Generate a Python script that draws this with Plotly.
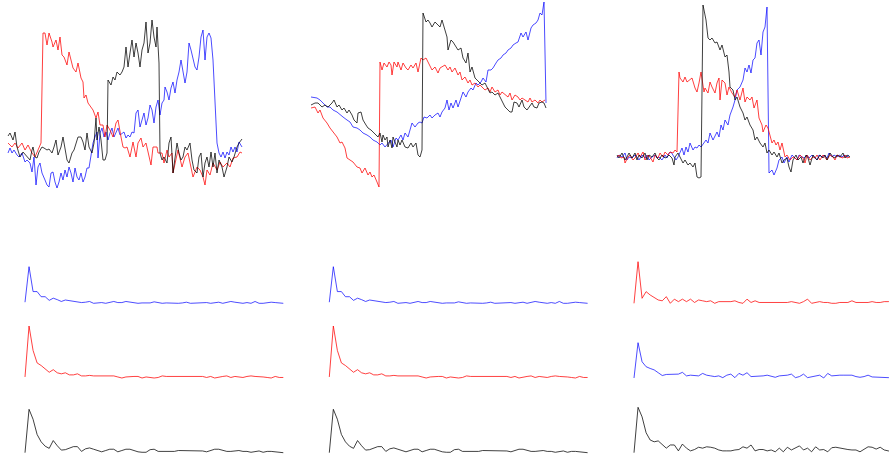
import plotly.graph_objects as go

W, H = 889, 459

# ---------------- time-domain signals (sample index, amplitude) ----------------
# Panel 1
p1_red_t = [0, 4, 7, 10, 14, 17, 20, 24, 27, 30, 33, 35, 37, 39, 41, 44, 45, 48, 50, 52, 54, 56, 59, 61, 63, 65, 68, 70, 73, 75,
            76, 78, 80, 83, 85, 88, 90, 92, 95, 97, 99, 102, 105, 108, 110, 113, 115, 117, 119, 122, 125, 128, 130, 133, 135, 138, 140, 143, 145, 149,
            150, 154, 156, 159, 161, 164, 165, 168, 170, 174, 177, 180, 183, 185, 189, 192, 195, 197, 199, 202, 205, 209, 212, 215, 219, 222, 225, 229, 232, 234]
p1_red_v = [7, 3, 7, 2, 7, 0, 5, -3, -7, 0, 7, 117, 117, 105, 117, 108, 103, 110, 100, 113, 95, 93, 85, 98, 90, 82, 78, 87, 72, 68,
            52, 55, 47, 42, 40, 32, 38, 25, 25, 13, 25, 20, 13, 27, 30, 13, 3, 2, 3, -7, 8, -7, 7, 12, 3, 7, -3, -15, 3, 3,
            -3, -3, -13, 0, -7, -3, -23, -10, 0, -17, -7, -3, -17, -27, -17, -20, -27, -35, -20, -25, -13, -20, -12, -17, -13, -17, -8, -7, -2, -3]

p1_black_t = [0, 2, 5, 7, 9, 12, 15, 17, 19, 22, 24, 25, 27, 29, 31, 34, 36, 39, 41, 44, 46, 48, 50, 53, 55, 57, 59, 61, 64, 66,
              68, 70, 73, 75, 77, 79, 81, 84, 86, 88, 89, 91, 93, 95, 97, 99, 100, 103, 105, 107, 109, 112, 114, 116, 118, 120, 122, 124, 126, 128,
              130, 132, 134, 136, 138, 140, 142, 144, 146, 148, 149, 151, 152, 154, 156, 159, 161, 163, 165, 167, 169, 171, 173, 175, 177, 179, 182, 184, 186, 189,
              191, 193, 195, 197, 199, 201, 203, 205, 207, 209, 211, 214, 216, 219, 221, 224, 226, 229, 231, 234]
p1_black_v = [14, 17, 10, 18, 3, -7, -2, -4, -7, -10, 0, 3, -7, -8, -2, 3, 2, 0, 1, -3, 3, 10, -5, 3, 13, 3, -10, -13, -3, 0,
              7, 13, 13, 8, 0, 17, 3, -3, 7, 32, 10, 23, 10, -10, -10, -3, 70, 65, 73, 70, 78, 75, 78, 83, 103, 83, 97, 110, 93, 107,
              97, 83, 100, 107, 128, 97, 107, 130, 113, 103, 123, 87, -3, -10, -7, -13, 7, 13, -23, -7, 7, -3, -10, -7, 3, 0, 7, -10, -20, -23,
              -7, -3, -27, -13, -7, -17, -2, -17, -3, -23, -10, -17, -27, -17, -7, -12, -7, 3, 7, 11]

p1_blue_t = [0, 2, 4, 6, 9, 11, 14, 17, 19, 22, 24, 26, 28, 30, 32, 34, 37, 39, 41, 43, 45, 47, 49, 51, 53, 55, 57, 59, 61, 63,
             65, 67, 69, 71, 73, 75, 77, 79, 81, 83, 85, 87, 89, 90, 92, 94, 96, 98, 100, 102, 104, 106, 108, 110, 112, 114, 116, 118, 120, 122,
             124, 126, 128, 130, 132, 134, 136, 138, 140, 142, 144, 146, 148, 150, 152, 154, 156, 157, 159, 161, 163, 165, 167, 169, 171, 173, 175, 177, 179, 181,
             183, 185, 187, 189, 191, 193, 195, 197, 199, 201, 203, 205, 207, 209, 211, 213, 215, 217, 219, 221, 223, 225, 227, 229, 231, 234]
p1_blue_v = [-3, 2, -3, 0, -5, -7, -3, -12, -10, -13, -22, -7, -35, -17, -13, -23, -30, -35, -37, -23, -22, -32, -38, -32, -23, -30, -20, -27, -17, -23,
             -32, -18, -27, -30, -23, -32, -27, -18, -18, -3, 7, 13, 18, -8, 17, 22, 13, 18, 10, 17, 22, 13, 17, 22, 15, 17, 18, 12, 15, 13,
             18, 17, 37, 40, 23, 30, 37, 25, 32, 45, 40, 27, 43, 50, 35, 47, 50, 63, 58, 50, 62, 68, 57, 70, 78, 90, 77, 67, 78, 107,
             100, 92, 83, 80, 93, 113, 120, 90, 113, 117, 112, 90, 50, 7, -3, -7, -2, -8, -2, -5, 3, -2, 3, -2, 8, 3]

# Panel 2
p2_red_t = [0, 4, 7, 9, 12, 16, 19, 22, 26, 29, 31, 34, 36, 39, 42, 46, 49, 51, 54, 57, 59, 61, 63, 66, 68, 69, 71, 73, 76, 78,
            80, 81, 83, 86, 87, 90, 92, 95, 97, 100, 102, 105, 107, 110, 112, 115, 117, 119, 121, 124, 127, 129, 131, 134, 137, 139, 141, 144, 147, 149,
            151, 154, 157, 159, 161, 164, 167, 169, 171, 174, 177, 179, 181, 184, 187, 189, 191, 194, 197, 199, 201, 204, 207, 209, 211, 214, 217, 219, 221, 224,
            227, 229, 231, 234]
p2_red_v = [-8, -7, -13, -10, -18, -23, -28, -32, -37, -43, -42, -48, -58, -60, -62, -67, -68, -73, -68, -75, -72, -77, -75, -82, -87, 38, 30, 37, 33, 38,
            35, 25, 38, 33, 38, 30, 37, 32, 30, 35, 32, 37, 28, 42, 40, 42, 38, 35, 30, 33, 27, 32, 33, 35, 30, 33, 28, 32, 25, 28,
            20, 23, 17, 20, 15, 17, 13, 15, 13, 10, 12, 8, 13, 8, 10, 5, 8, 5, 3, 7, 0, 5, 3, 0, 2, 0, -2, 2, -2, 0,
            -3, 0, -2, 0]

p2_black_t = [0, 4, 7, 11, 14, 17, 21, 23, 26, 28, 31, 33, 36, 38, 41, 43, 46, 47, 50, 52, 55, 57, 60, 62, 65, 67, 69, 71, 72, 74,
              76, 77, 79, 81, 82, 84, 86, 87, 89, 91, 94, 97, 100, 102, 105, 107, 109, 111, 112, 115, 117, 119, 121, 124, 127, 129, 131, 134, 136, 137,
              140, 142, 145, 147, 150, 152, 155, 157, 159, 161, 164, 166, 169, 171, 174, 177, 179, 181, 184, 187, 189, 191, 194, 197, 199, 201, 203, 206, 208, 211,
              213, 216, 218, 221, 223, 226, 228, 231, 233, 235]
p2_black_v = [-5, -3, -3, -7, -5, -7, -3, 0, -7, -5, -10, -8, -13, -10, -15, -20, -23, -13, -12, -20, -25, -28, -30, -32, -35, -37, -33, -42, -35, -40,
              -37, -47, -40, -48, -37, -43, -47, -40, -45, -40, -47, -48, -43, -47, -43, -55, -57, -50, 87, 78, 80, 77, 73, 78, 75, 73, 80, 68, 63, 50,
              60, 58, 53, 50, 52, 42, 37, 47, 28, 33, 22, 20, 18, 15, 17, 10, 7, 8, 5, 7, 3, 0, -7, -10, -12, -12, -2, -3, -7, 0,
              -7, -10, -7, -3, -7, -8, -3, -2, -3, -8]

p2_blue_t = [0, 6, 9, 12, 16, 19, 22, 26, 29, 32, 36, 39, 42, 46, 49, 52, 56, 59, 62, 66, 69, 71, 74, 77, 80, 82, 85, 87, 90, 92,
             94, 97, 99, 101, 104, 107, 109, 111, 113, 116, 119, 121, 124, 127, 129, 131, 134, 136, 138, 140, 142, 145, 147, 150, 152, 155, 157, 160, 162, 165,
             167, 170, 172, 175, 177, 180, 182, 185, 187, 190, 192, 195, 197, 200, 202, 205, 207, 210, 212, 215, 217, 220, 222, 225, 227, 229, 231, 233, 235]
p2_blue_v = [3, 2, 0, -3, -7, -7, -10, -12, -15, -17, -20, -22, -27, -28, -30, -33, -35, -37, -40, -42, -45, -43, -47, -43, -40, -47, -38, -40, -35, -40,
             -33, -37, -30, -23, -27, -23, -22, -23, -17, -18, -15, -18, -15, -13, -17, -12, -8, 0, -10, -3, -8, 0, -7, 2, 8, 3, 8, 12, 10, 17,
             15, 18, 22, 18, 30, 30, 32, 37, 40, 42, 45, 47, 50, 52, 55, 57, 58, 67, 63, 68, 60, 72, 75, 77, 80, 87, 85, 98, -3]

# Panel 3
p3_red_t = [0, 2, 4, 7, 8, 11, 13, 16, 18, 21, 23, 26, 28, 31, 33, 36, 38, 41, 43, 46, 48, 51, 53, 56, 58, 60, 62, 63, 66, 68,
            70, 72, 75, 78, 80, 82, 84, 87, 88, 91, 93, 95, 98, 100, 102, 103, 105, 108, 110, 112, 115, 118, 120, 123, 126, 128, 130, 133, 135, 137,
            140, 142, 145, 146, 149, 151, 153, 155, 157, 159, 161, 163, 165, 166, 168, 170, 173, 176, 178, 180, 183, 186, 188, 190, 193, 196, 198, 200, 203, 206,
            208, 210, 213, 216, 218, 220, 223, 226, 228, 230, 233]
p3_red_v = [-1, 1, -2, -1, -7, -1, 1, -4, -2, 3, -1, 4, -4, 1, -1, -6, 1, -2, 3, -1, 4, 1, 4, 3, 6, 4, 84, 78, 74, 79,
            74, 76, 78, 68, 64, 73, 84, 64, 68, 63, 74, 69, 63, 73, 78, 56, 76, 73, 61, 69, 63, 59, 66, 56, 68, 54, 59, 56, 59, 48,
            56, 38, 31, 24, 31, 28, 19, 13, 16, 11, 14, 6, 13, 8, -1, 1, -4, -1, -2, -4, 1, -2, -7, 1, -4, -1, -2, 1, -4, 1,
            -1, -4, 1, -1, -4, 1, -1, -2, 1, -2, -1]

p3_black_t = [0, 2, 5, 8, 10, 12, 15, 18, 20, 22, 25, 28, 30, 32, 35, 38, 40, 42, 45, 48, 50, 52, 55, 57, 58, 61, 63, 66, 68, 71,
              73, 76, 78, 80, 82, 84, 86, 89, 91, 93, 95, 98, 100, 102, 103, 105, 108, 110, 112, 113, 116, 118, 120, 123, 126, 128, 130, 133, 136, 138,
              140, 143, 146, 148, 150, 152, 155, 157, 160, 162, 165, 167, 170, 172, 174, 176, 179, 181, 184, 186, 189, 191, 193, 196, 198, 200, 203, 206, 208, 210,
              213, 216, 218, 220, 223, 226, 228, 230, 233]
p3_black_v = [1, -2, 3, -4, -1, 3, -2, 3, -4, 1, -2, 3, -4, 1, -1, 3, -2, -4, 1, -2, -1, 1, -2, -9, -1, 3, -1, -7, -4, -9,
              -7, -11, -7, -21, -22, -21, 151, 136, 118, 116, 118, 113, 114, 108, 106, 111, 99, 101, 84, 69, 66, 56, 59, 49, 43, 36, 39, 31, 26, 16,
              19, 13, 9, 13, 3, 6, 1, 4, -1, 3, -7, -4, -2, -11, -16, -4, 1, -4, -1, -7, 1, -2, -9, 1, -1, -4, 1, -2, 1, -4,
              3, -1, -2, 1, -1, 3, -2, 1, -1]

p3_blue_t = [0, 2, 5, 8, 10, 12, 15, 18, 20, 22, 25, 28, 30, 32, 35, 38, 40, 42, 45, 48, 50, 52, 54, 57, 59, 61, 63, 65, 67, 69,
             71, 73, 76, 78, 80, 82, 84, 87, 89, 91, 93, 96, 98, 100, 102, 104, 106, 108, 111, 113, 116, 118, 120, 123, 126, 128, 130, 132, 134, 136,
             138, 140, 142, 144, 146, 148, 150, 152, 155, 157, 160, 162, 165, 167, 170, 172, 175, 177, 180, 182, 185, 187, 190, 192, 195, 197, 200, 202, 205, 207,
             210, 212, 215, 217, 220, 222, 225, 227, 230, 232]
p3_blue_v = [-2, 1, -1, 3, -4, -1, -2, 1, -1, -4, 1, -2, 1, -4, -1, 1, -2, -1, -4, 1, -2, 3, 4, -1, -4, -1, 3, 8, 1, 9,
             4, 13, 6, 9, 8, 11, 9, 13, 16, 13, 23, 16, 21, 24, 19, 31, 26, 36, 31, 41, 49, 56, 66, 69, 76, 88, 84, 91, 83, 96,
             98, 113, 116, 101, 124, 129, 149, -17, -14, -19, -12, -4, -1, -7, -1, -6, 1, -1, -4, 1, -1, -2, 1, -2, 1, -1, -4, 1, -1, 1,
             -2, 3, -1, 1, -1, 1, -1, 1, -1, 1]

# ---------------- magnitude spectra (normalised to the peak) ----------------
freq_bins = list(range(65))

spec_a_blue = [0.03, 1.00, 0.32, 0.32, 0.18, 0.18, 0.08, 0.14, 0.10, 0.05, 0.09, 0.07, 0.06, 0.04, 0.02, 0.03, 0.05, 0.00, 0.02, 0.02,
               0.00, 0.02, 0.05, 0.02, 0.02, 0.05, 0.03, 0.01, 0.00, 0.01, 0.01, 0.01, 0.04, 0.02, 0.00, 0.01, 0.00, 0.01, 0.00, 0.01,
               0.03, 0.00, 0.01, 0.00, 0.01, 0.02, 0.00, 0.01, 0.03, 0.00, 0.02, 0.05, 0.03, 0.02, 0.00, 0.02, 0.00, 0.05, 0.00, 0.00,
               0.02, 0.03, 0.02, 0.00, 0.00]
spec_a_red = [0.02, 1.00, 0.53, 0.29, 0.24, 0.17, 0.11, 0.16, 0.10, 0.08, 0.10, 0.06, 0.06, 0.08, 0.04, 0.04, 0.05, 0.04, 0.04, 0.04,
              0.04, 0.04, 0.04, 0.02, 0.00, 0.02, 0.03, 0.03, 0.03, 0.00, 0.02, 0.01, 0.00, 0.01, 0.04, 0.03, 0.03, 0.03, 0.03, 0.03,
              0.03, 0.03, 0.03, 0.04, 0.03, 0.01, 0.03, 0.00, 0.02, 0.03, 0.04, 0.01, 0.03, 0.02, 0.01, 0.03, 0.04, 0.03, 0.03, 0.02,
              0.01, 0.00, 0.03, 0.01, 0.01]
spec_a_black = [0.00, 1.00, 0.77, 0.42, 0.25, 0.15, 0.10, 0.28, 0.16, 0.06, 0.07, 0.11, 0.14, 0.14, 0.03, 0.09, 0.11, 0.08, 0.05, 0.02,
                0.05, 0.08, 0.08, 0.02, 0.05, 0.08, 0.08, 0.05, 0.02, 0.01, 0.01, 0.07, 0.08, 0.03, 0.03, 0.04, 0.04, 0.03, 0.05, 0.05,
                0.05, 0.04, 0.04, 0.04, 0.04, 0.02, 0.05, 0.08, 0.08, 0.05, 0.03, 0.03, 0.04, 0.05, 0.03, 0.03, 0.01, 0.02, 0.04, 0.01,
                0.03, 0.03, 0.02, 0.01, 0.00]

# the second signal set has the same magnitude spectra as the first
spec_b_blue = spec_a_blue
spec_b_red = spec_a_red
spec_b_black = spec_a_black

spec_c_red = [0.00, 1.00, 0.12, 0.28, 0.20, 0.14, 0.08, 0.06, 0.16, 0.00, 0.10, 0.04, 0.10, 0.04, 0.10, 0.02, 0.08, 0.06, 0.04, 0.06,
              0.00, 0.04, 0.04, 0.04, 0.04, 0.06, 0.02, 0.00, 0.10, 0.02, 0.06, 0.02, 0.02, 0.02, 0.02, 0.02, 0.02, 0.02, 0.02, 0.04,
              0.02, 0.00, 0.04, 0.10, 0.00, 0.02, 0.04, 0.02, 0.02, 0.00, 0.00, 0.02, 0.02, 0.02, 0.06, 0.02, 0.02, 0.02, 0.02, 0.04,
              0.02, 0.02, 0.04, 0.04, 0.06]
spec_c_blue = [0.00, 1.00, 0.46, 0.32, 0.27, 0.23, 0.15, 0.07, 0.10, 0.10, 0.11, 0.11, 0.16, 0.06, 0.08, 0.06, 0.06, 0.13, 0.08, 0.06,
               0.04, 0.06, 0.01, 0.08, 0.11, 0.01, 0.13, 0.08, 0.15, 0.04, 0.04, 0.06, 0.06, 0.08, 0.06, 0.02, 0.06, 0.06, 0.08, 0.11,
               0.01, 0.04, 0.11, 0.01, 0.04, 0.06, 0.08, 0.00, 0.13, 0.06, 0.08, 0.08, 0.08, 0.08, 0.08, 0.04, 0.02, 0.04, 0.08, 0.03,
               0.02, 0.02, 0.01, 0.01, 0.02]
spec_c_black = [0.00, 1.00, 0.79, 0.44, 0.28, 0.24, 0.26, 0.17, 0.10, 0.17, 0.17, 0.04, 0.19, 0.10, 0.04, 0.07, 0.12, 0.10, 0.13, 0.12,
                0.10, 0.06, 0.04, 0.04, 0.04, 0.06, 0.07, 0.13, 0.10, 0.17, 0.04, 0.07, 0.07, 0.04, 0.06, 0.02, 0.10, 0.02, 0.12, 0.06,
                0.10, 0.15, 0.06, 0.10, 0.02, 0.13, 0.06, 0.07, 0.02, 0.11, 0.12, 0.10, 0.08, 0.07, 0.06, 0.06, 0.02, 0.07, 0.13, 0.12,
                0.08, 0.12, 0.06, 0.04, 0.02]

COLORS = {"red": "rgba(255,0,0,0.75)", "blue": "rgba(0,0,255,0.7)", "black": "rgba(0,0,0,0.75)"}


def x_axis(origin, scale, lo, hi):
    """Axis whose value 0 sits at pixel `origin`, `scale` pixels per unit."""
    lo = max(lo, -origin / scale)
    hi = min(hi, (W - origin) / scale)
    d0 = min(max((origin + lo * scale) / W, 0.0), 1.0)
    d1 = min(max((origin + hi * scale) / W, 0.0), 1.0)
    return dict(domain=[d0, d1], range=[lo, hi], visible=False, fixedrange=True)


def y_axis(origin, scale, lo, hi):
    """Vertical axis: value 0 at pixel row `origin`, values grow upwards."""
    hi = min(hi, origin / scale)
    lo = max(lo, (origin - H) / scale)
    d0 = min(max(1 - (origin - lo * scale) / H, 0.0), 1.0)
    d1 = min(max(1 - (origin - hi * scale) / H, 0.0), 1.0)
    return dict(domain=[d0, d1], range=[lo, hi], visible=False, fixedrange=True)


fig = go.Figure()
layout = {}
n_axis = [0]


def add_panel(xa, ya, series):
    n_axis[0] += 1
    k = n_axis[0]
    sx = "" if k == 1 else str(k)
    layout["xaxis" + sx] = dict(xa, anchor="y" + sx)
    layout["yaxis" + sx] = dict(ya, anchor="x" + sx)
    for xs, ys, col in series:
        fig.add_trace(go.Scatter(x=xs, y=ys, mode="lines",
                                 line=dict(color=COLORS[col], width=1),
                                 xaxis="x" + sx, yaxis="y" + sx,
                                 showlegend=False, hoverinfo="skip"))


# time-domain panels: (left pixel, zero row, signals)
top_panels = [
    (8, 150, [(p1_blue_t, p1_blue_v, "blue"), (p1_red_t, p1_red_v, "red"), (p1_black_t, p1_black_v, "black")]),
    (311, 100, [(p2_blue_t, p2_blue_v, "blue"), (p2_red_t, p2_red_v, "red"), (p2_black_t, p2_black_v, "black")]),
    (617, 156, [(p3_blue_t, p3_blue_v, "blue"), (p3_red_t, p3_red_v, "red"), (p3_black_t, p3_black_v, "black")]),
]
for left, zero, series in top_panels:
    add_panel(x_axis(left, 1.0, -4, 240), y_axis(zero, 1.0, -100, 160), series)

# spectra: column start pixel and rows (base row, peak row, spectrum, colour)
STEP = 4.036
spec_cols = [
    (25, [(303.3, 266.7, spec_a_blue, "blue"), (378, 326, spec_a_red, "red"), (452.7, 409.3, spec_a_black, "black")]),
    (329.3, [(303.3, 266.7, spec_b_blue, "blue"), (378, 326, spec_b_red, "red"), (452.7, 409.3, spec_b_black, "black")]),
    (634, [(303.3, 261.7, spec_c_red, "red"), (378, 342.7, spec_c_blue, "blue"), (452.7, 407.3, spec_c_black, "black")]),
]
for x0, rows in spec_cols:
    for base, peak, spec, col in rows:
        add_panel(x_axis(x0, STEP, -1, 65),
                  y_axis(base, base - peak, -0.08, 1.08),
                  [(freq_bins, spec, col)])

fig.update_layout(width=W, height=H, margin=dict(l=0, r=0, t=0, b=0),
                  paper_bgcolor="white", plot_bgcolor="white", **layout)
fig.write_html("out.html")
